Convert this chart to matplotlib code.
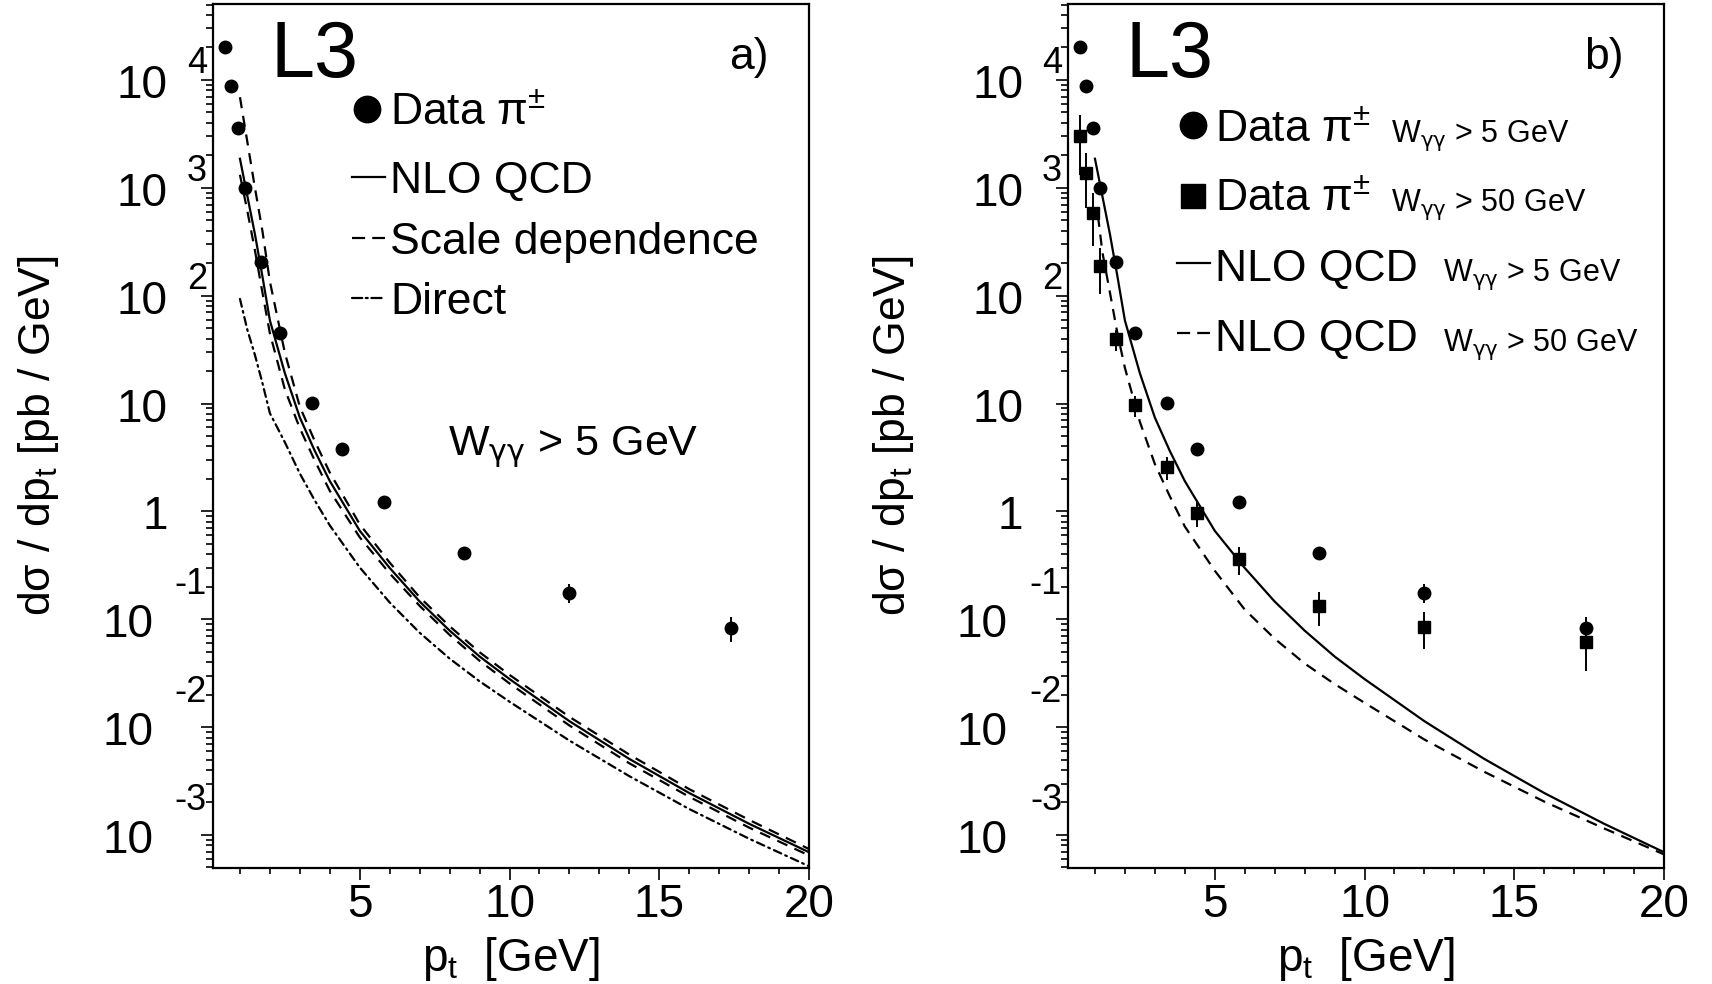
import matplotlib
matplotlib.use("Agg")
import matplotlib.pyplot as plt
from matplotlib.ticker import LogLocator, MultipleLocator, NullFormatter, FixedLocator

plt.rcParams['font.family'] = ['Liberation Sans', 'DejaVu Sans']
plt.rcParams['mathtext.fontset'] = 'custom'
plt.rcParams['mathtext.rm'] = 'Liberation Sans'
plt.rcParams['mathtext.it'] = 'Liberation Sans:italic'
plt.rcParams['mathtext.bf'] = 'Liberation Sans:bold'
plt.rcParams['mathtext.sf'] = 'DejaVu Sans'

# measured pi+- spectra (pb/GeV)
pt_data = [0.5, 0.71, 0.92, 1.18, 1.7, 2.33, 3.4, 4.42, 5.82, 8.48, 12.0, 17.4]
data_w5 = [2.0e4, 8.8e3, 3.6e3, 1.0e3, 205, 45, 10.1, 3.75, 1.22, 0.41, 0.175, 0.083]
err_w5 = [1500, 500, 200, 50, 10, 2.5, 0.6, 0.25, 0.1, 0.05, 0.035, 0.022]
data_w50 = [3020, 1380, 589, 189, 39.5, 9.6, 2.57, 0.96, 0.36, 0.132, 0.0847, 0.061]
err_w50 = [1700, 730, 300, 85, 9, 2.1, 0.63, 0.25, 0.105, 0.046, 0.032, 0.028]

# NLO QCD predictions
pt_curve = [1.0, 1.25, 1.5, 1.75, 2.0, 2.5, 3.0, 3.5, 4.0, 5.0, 6.0, 7.0, 8.0, 9.0,
            10.0, 12.0, 14.0, 16.0, 18.0, 20.0]
nlo_w5 = [1860, 832, 372, 151, 58.9, 19.1, 7.41, 3.63, 1.91, 0.661, 0.299, 0.146,
          0.0785, 0.0452, 0.0279, 0.01135, 0.00507, 0.00245, 0.00127, 0.000692]
scale_hi = [6920, 2630, 1000, 398, 135, 29.5, 9.33, 4.47, 2.29, 0.759, 0.335, 0.160,
            0.0861, 0.0495, 0.0305, 0.01245, 0.00556, 0.00266, 0.00138, 0.000741]
scale_lo = [1320, 603, 263, 107, 44.7, 13.5, 5.89, 2.95, 1.55, 0.575, 0.266, 0.133,
            0.0716, 0.0412, 0.0254, 0.01035, 0.00462, 0.00226, 0.00117, 0.000646]
direct = [93.3, 47.9, 28.2, 15.5, 8.13, 4.37, 2.24, 1.26, 0.741, 0.302, 0.143, 0.0750,
          0.0432, 0.0266, 0.0172, 0.00750, 0.00351, 0.00174, 0.000923, 0.000513]
pt_curve50 = [1.1, 1.25, 1.5, 1.75, 2.0, 2.5, 3.0, 3.5, 4.0, 5.0, 6.0, 7.0, 8.0, 9.0,
              10.0, 12.0, 14.0, 16.0, 18.0, 20.0]
nlo_w50 = [550, 251, 107, 44.7, 21.4, 6.76, 2.75, 1.38, 0.724, 0.282, 0.123, 0.0661,
           0.0389, 0.0251, 0.0168, 0.00767, 0.00385, 0.00204, 0.00115, 0.000661]

decades = [-3, -2, -1, 0, 1, 2, 3, 4]
xticks = [5, 10, 15, 20]

W = 1712
H = 984
fig = plt.figure(figsize=(W / 100, H / 100), dpi=100)

LW = 1.6
DASH = (0, (5, 3.5))
DASHDOT = (0, (3.6, 2.0, 0.8, 2.0))
KEY_DASH = (0, (5.9, 3.2))
KEY_DASHDOT = (0, (4.6, 1.6, 0.9, 1.6))


def setup(ax):
    ax.set_yscale('log')
    ax.set_xlim(0.1, 20)
    ax.set_ylim(4.94e-4, 5.06e4)
    ax.yaxis.set_major_locator(LogLocator(base=10, numticks=20))
    ax.yaxis.set_minor_locator(LogLocator(base=10, subs=range(2, 10), numticks=20))
    ax.yaxis.set_minor_formatter(NullFormatter())
    ax.xaxis.set_major_locator(FixedLocator(xticks))
    ax.xaxis.set_minor_locator(MultipleLocator(1))
    ax.tick_params(axis='y', which='both', direction='out', right=False, labelleft=False)
    ax.tick_params(axis='y', which='major', length=8.6, width=1.2)
    ax.tick_params(axis='y', which='minor', length=5, width=1.2)
    ax.tick_params(axis='x', which='both', direction='out', top=False)
    ax.tick_params(axis='x', which='major', length=8.6, width=1.2, labelsize=33, pad=2)
    ax.tick_params(axis='x', which='minor', length=4.5, width=1.2)
    for s in ax.spines.values():
        s.set_linewidth(1.6)
    # ROOT style log labels
    for k in decades:
        if k == 0:
            main, ex = '1', None
        elif k == 1:
            main, ex = '10', None
        else:
            main, ex = '10', str(k)
        dx = -60 if k < 0 else -45
        ax.annotate(main, xy=(0, 10.0 ** k), xycoords=ax.get_yaxis_transform(),
                    xytext=(dx, -18), textcoords='offset pixels',
                    ha='right', va='baseline', fontsize=33, annotation_clip=False)
        if ex:
            ax.annotate(ex, xy=(0, 10.0 ** k), xycoords=ax.get_yaxis_transform(),
                        xytext=(-6, 25 if k < 0 else 7), textcoords='offset pixels',
                        ha='right', va='baseline', fontsize=26, annotation_clip=False)
    ax.text(0.097, 0.9155, 'L3', transform=ax.transAxes, fontsize=57,
            ha='left', va='baseline')


def key(ax, x0, x1, y, **kw):
    ax.plot([x0, x1], [y, y], transform=ax.transAxes, clip_on=False, color='k', **kw)


GG = r'W$_{\mathsf{γγ}}$'

ax1 = fig.add_axes([213 / W, 116 / H, 596 / W, 864 / H])
ax2 = fig.add_axes([1068 / W, 116 / H, 596 / W, 864 / H])

# ---- panel a)
setup(ax1)
ax1.plot(pt_curve, scale_hi, color='k', lw=LW, ls=DASH)
ax1.plot(pt_curve, scale_lo, color='k', lw=LW, ls=DASH)
ax1.plot(pt_curve, nlo_w5, color='k', lw=LW)
ax1.plot(pt_curve, direct, color='k', lw=LW, ls=DASHDOT, dash_capstyle='round')
ax1.errorbar(pt_data, data_w5, yerr=err_w5, fmt='o', ms=9, color='k',
             elinewidth=1.4, capsize=0, zorder=3)
ax1.text(0.932, 0.9248, 'a)', transform=ax1.transAxes, fontsize=32, ha='right', va='baseline')
ax1.text(0.395, 0.478, GG + ' > 5 GeV', transform=ax1.transAxes,
         fontsize=31, ha='left', va='baseline')

ax1.plot([0.258], [0.8785], 'o', ms=19, color='k', transform=ax1.transAxes, clip_on=False)
key(ax1, 0.2332, 0.2886, 0.8003, lw=LW)
key(ax1, 0.2332, 0.2886, 0.7292, lw=LW, ls=KEY_DASH)
key(ax1, 0.2332, 0.2886, 0.6597, lw=LW, ls=KEY_DASHDOT, dash_capstyle='round')
labels_a = [r'Data π$^{\pm}$', 'NLO QCD', 'Scale dependence', 'Direct']
for lab, y in zip(labels_a, [0.860, 0.781, 0.7106, 0.641]):
    ax1.text(0.297, y, lab, transform=ax1.transAxes, fontsize=32, ha='left', va='baseline')

# ---- panel b)
setup(ax2)
ax2.plot(pt_curve, nlo_w5, color='k', lw=LW)
ax2.plot(pt_curve50, nlo_w50, color='k', lw=LW, ls=DASH)
ax2.errorbar(pt_data, data_w5, yerr=err_w5, fmt='o', ms=9, color='k',
             elinewidth=1.4, capsize=0, zorder=3)
ax2.errorbar(pt_data, data_w50, yerr=err_w50, fmt='s', ms=8, color='k',
             elinewidth=1.4, capsize=0, zorder=3)
ax2.text(0.932, 0.9248, 'b)', transform=ax2.transAxes, fontsize=32, ha='right', va='baseline')

ax2.plot([0.2097], [0.8600], 'o', ms=19, color='k', transform=ax2.transAxes, clip_on=False)
ax2.plot([0.2097], [0.7778], 's', ms=17, color='k', transform=ax2.transAxes, clip_on=False)
key(ax2, 0.183, 0.238, 0.7002, lw=LW)
key(ax2, 0.183, 0.238, 0.6192, lw=LW, ls=KEY_DASH)
labels_b = [r'Data π$^{\pm}$', r'Data π$^{\pm}$', 'NLO QCD', 'NLO QCD']
cuts_b = [GG + ' > 5 GeV', GG + ' > 50 GeV', GG + ' > 5 GeV', GG + ' > 50 GeV']
cut_x = [0.542, 0.542, 0.629, 0.629]
for lab, cut, cx, y in zip(labels_b, cuts_b, cut_x, [0.8403, 0.7604, 0.6794, 0.5984]):
    ax2.text(0.2466, y, lab, transform=ax2.transAxes, fontsize=32, ha='left', va='baseline')
    ax2.text(cx, y, cut, transform=ax2.transAxes, fontsize=22, ha='left', va='baseline')

# axis titles
for ax_left in (213, 1068):
    fig.text((ax_left - 174) / W, (H - 436) / H, r'dσ / dp$_{\mathregular{t}}$ [pb / GeV]',
             rotation=90, ha='center', va='center', fontsize=32)
    fig.text((ax_left + 298) / W, (H - 971) / H, r'p$_{\mathregular{t}}$  [GeV]',
             ha='center', va='baseline', fontsize=33)

fig.savefig('out.png', dpi=100)
